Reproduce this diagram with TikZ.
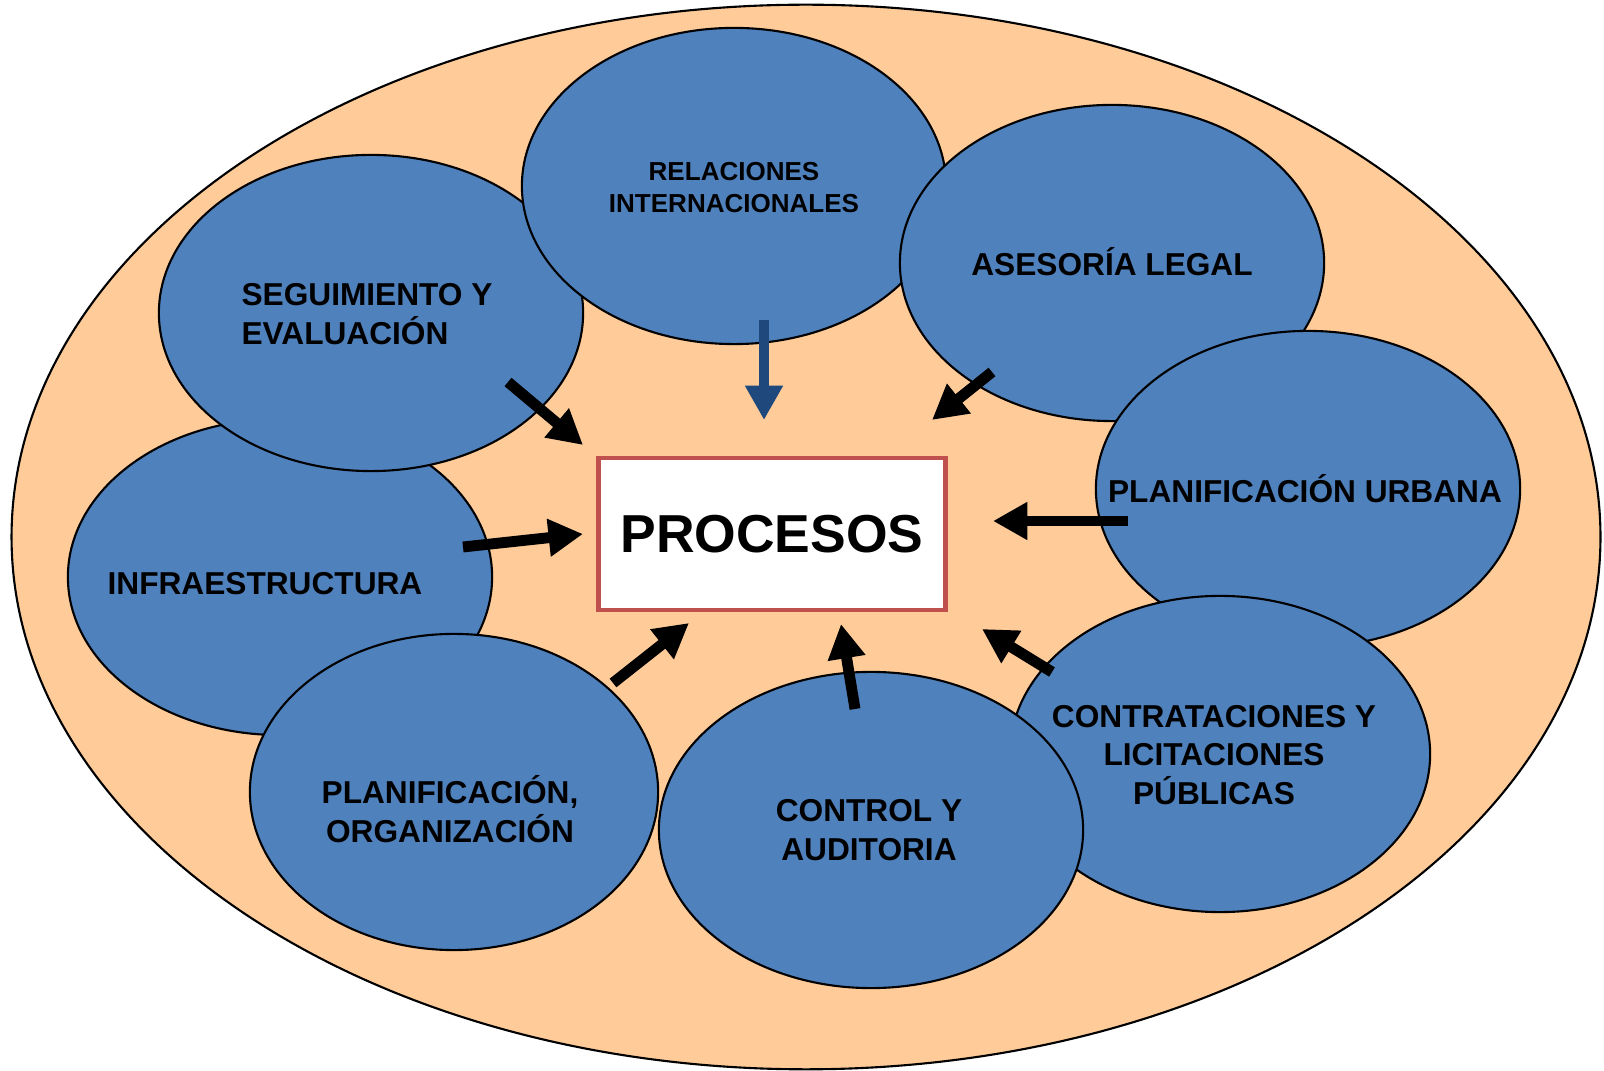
\documentclass[tikz,border=0pt]{standalone}
\usepackage{fontspec}
\setmainfont{Liberation Sans}
\usetikzlibrary{arrows.meta,shapes.geometric}

\definecolor{fondo}{RGB}{255,204,153}
\definecolor{azul}{RGB}{79,129,189}
\definecolor{azulosc}{RGB}{31,73,125}
\definecolor{rojo}{RGB}{192,80,77}

\tikzset{
  bub/.style={ellipse,draw,line width=.6pt,fill=azul,inner sep=0pt,minimum width=4.24cm,minimum height=3.16cm},
  lab/.style={font=\bfseries\fontsize{9}{11}\selectfont,align=center,inner sep=0pt},
  arr/.style={line width=3.1pt,-{Triangle[width=10.2pt,length=9.8pt]}}
}

\begin{document}
\begin{tikzpicture}[x=0.01cm,y=-0.01cm]
\useasboundingbox (0,0) rectangle (1604,1071);
\node[ellipse,draw,line width=.6pt,fill=fondo,inner sep=0pt,minimum width=15.88cm,minimum height=10.64cm] (marco) at (806,537) {};
\node[bub] (infra) at (280,577) {};
\node[bub] (seg) at (371,313) {};
\node[bub] (rel) at (734,186) {};
\node[bub] (ases) at (1112,263) {};
\node[bub] (urb) at (1308,489) {};
\node[bub,minimum width=4.2cm] (contr) at (1220,754) {};
\node[bub] (ctrl) at (871,830) {};
\node[bub,minimum width=4.08cm] (plan) at (454,792) {};
\node[lab,font=\bfseries\fontsize{7.4}{9.1}\selectfont] (relT) at (734,188) {RELACIONES\\INTERNACIONALES};
\node[lab,align=left] (segT) at (367,314) {SEGUIMIENTO Y\\EVALUACIÓN};
\node[lab] (asesT) at (1112,262) {ASESORÍA LEGAL};
\node[lab] (urbT) at (1305,489) {PLANIFICACIÓN URBANA};
\node[lab] (infraT) at (265,584) {INFRAESTRUCTURA};
\node[lab] (contrT) at (1214,755) {CONTRATACIONES Y\\LICITACIONES\\PÚBLICAS};
\node[lab] (ctrlT) at (869,830) {CONTROL Y\\AUDITORIA};
\node[lab] (planT) at (450,809) {PLANIFICACIÓN,\\ORGANIZACIÓN};
\node[draw=rojo,line width=1.3pt,fill=white,minimum width=3.47cm,minimum height=1.52cm,inner sep=0pt,font=\bfseries\fontsize{15.2}{18}\selectfont] (proc) at (772,534) {PROCESOS};
\coordinate (relA) at (764,320);
\coordinate (relB) at (764,420);
\coordinate (segA) at (508,382);
\coordinate (segB) at (583,445);
\coordinate (infraA) at (463,547);
\coordinate (infraB) at (583,534);
\coordinate (planA) at (613,683);
\coordinate (planB) at (689,623);
\coordinate (asesA) at (992,372);
\coordinate (asesB) at (932,420);
\coordinate (urbA) at (1128,521);
\coordinate (urbB) at (993,521);
\coordinate (contrA) at (1052,672);
\coordinate (contrB) at (982,629);
\coordinate (ctrlA) at (855,709);
\coordinate (ctrlB) at (841,624);
\draw[arr,azulosc] (relA) -- (relB);
\draw[arr] (segA) -- (segB);
\draw[arr] (infraA) -- (infraB);
\draw[arr] (planA) -- (planB);
\draw[arr] (asesA) -- (asesB);
\draw[arr] (urbA) -- (urbB);
\draw[arr] (contrA) -- (contrB);
\draw[arr] (ctrlA) -- (ctrlB);
\end{tikzpicture}
\end{document}
